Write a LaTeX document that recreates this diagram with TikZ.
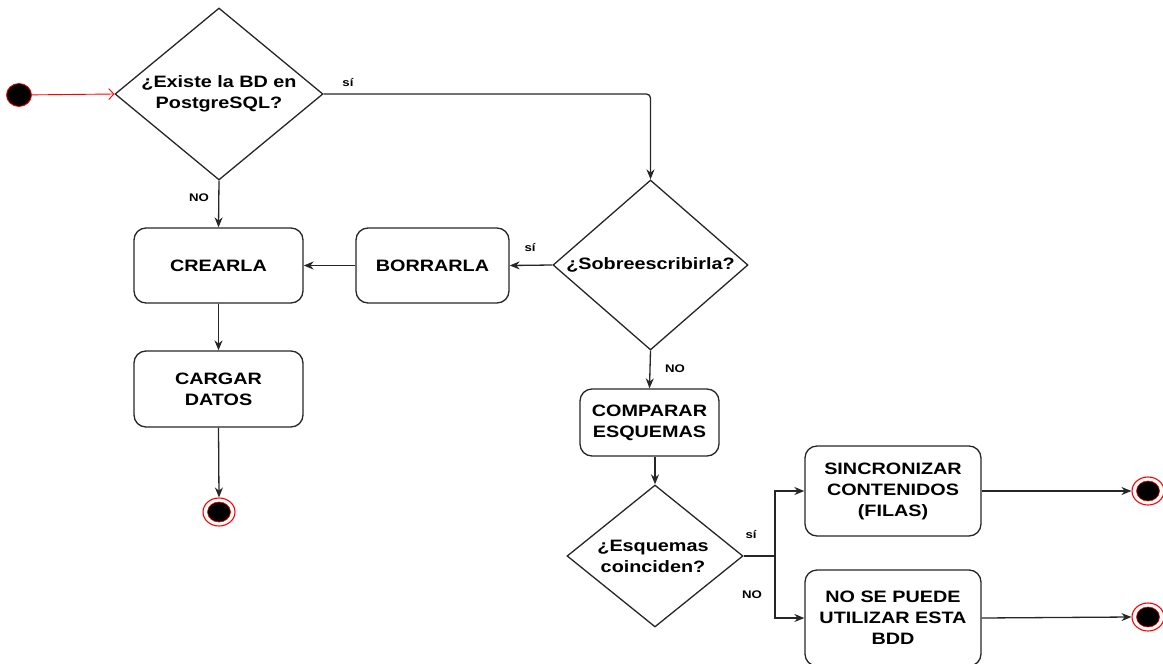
\documentclass[tikz,border=0pt]{standalone}
\usepackage{fontspec}
\setmainfont[FakeStretch=1.2]{Liberation Sans}
\usetikzlibrary{shapes.geometric,arrows.meta}
\begin{document}
\begin{tikzpicture}[x=1pt,y=-1pt,
 box/.style={draw=black!85, line width=1.3pt, rounded corners=12pt, align=center, font=\bfseries\fontsize{16.5}{21}\selectfont, inner sep=0pt},
 dia/.style={draw=black!85, line width=1.3pt, diamond, inner sep=0pt},
 dtext/.style={align=center, font=\bfseries\fontsize{16.5}{21}\selectfont},
 lbl/.style={font=\bfseries\fontsize{11}{13}\selectfont},
 arr/.style={draw=black!85, line width=1.3pt, -{Stealth[length=10pt,width=8pt]}},
 ln/.style={draw=black!85, line width=1.3pt},
 endring/.style={ellipse, draw=red, line width=1.1pt, minimum width=32pt, minimum height=28pt, inner sep=0pt},
 enddot/.style={ellipse, fill=black, draw=red, line width=0.6pt, minimum width=23pt, minimum height=20pt, inner sep=0pt},
]
\useasboundingbox (0,0) rectangle (1163,664);
\clip (0,0) rectangle (1163,664);

% start
\node[ellipse, fill=black, draw=red, line width=0.8pt, minimum width=25pt, minimum height=23pt, inner sep=0pt] (start) at (19,95) {};

% diamonds
\node[dia, minimum width=208pt, minimum height=172pt] (d1) at (219,94) {};
\node[dtext] (d1t) at (d1.center) {¿Existe la BD en\\PostgreSQL?};
\node[dia, minimum width=195pt, minimum height=170pt] (d2) at (650.5,265) {};
\node[dtext] (d2t) at (d2.center) {¿Sobreescribirla?};
\node[dia, minimum width=176pt, minimum height=142pt] (d3) at (655,556) {};
\node[dtext] (d3t) at (653,556) {¿Esquemas\\coinciden?};

% boxes
\node[box, minimum width=169pt, minimum height=75pt] (crear) at (218.5,265.5) {CREARLA};
\node[box, minimum width=153pt, minimum height=75pt] (borrar) at (432.5,265.5) {BORRARLA};
\node[box, minimum width=169pt, minimum height=76pt] (cargar) at (218.5,389) {CARGAR\\DATOS};
\node[box, minimum width=139pt, minimum height=67pt] (comparar) at (649.5,422.5) {COMPARAR\\ESQUEMAS};
\node[box, minimum width=176pt, minimum height=90pt] (sinc) at (893,491) {SINCRONIZAR\\CONTENIDOS\\(FILAS)};
\node[box, minimum width=176pt, minimum height=96pt] (nose) at (893,618) {NO SE PUEDE\\UTILIZAR ESTA\\BDD};

% end states
\node[endring] (end1) at (219,512) {};
\node[enddot] (end1d) at (end1.center) {};
\node[endring] (end2) at (1148,491) {};
\node[enddot] (end2d) at (end2.center) {};
\node[endring] (end3) at (1148,617) {};
\node[enddot] (end3d) at (end3.center) {};

% connectors
\draw[red, line width=0.9pt, -{Straight Barb[length=5pt,width=11pt,line width=0.9pt]}] (start) -- (d1.west);
\draw[arr, rounded corners=4pt] (d1.east) -- (d2.north |- d1.east) -- (d2.north);
\draw[arr] (d1.south) -- (crear.north);
\draw[arr] (d2.west) -- (borrar.east);
\draw[arr] (borrar.west) -- (crear.east);
\draw[arr] (crear.south) -- (cargar.north);
\draw[arr] (cargar.south) -- (end1.north);
\draw[arr] (d2.south) -- (comparar.north);
\draw[arr] (comparar.south -| d3.north) -- (d3.north);
\coordinate (split) at (775,556);
\draw[ln] (d3.east) -- (split);
\draw[arr] (split) |- (sinc.west);
\draw[arr] (split) |- (nose.west);
\draw[arr] (sinc.east) -- (end2.west);
\draw[arr] (nose.east) -- (end3.west);

% labels
\node[lbl] (l1) at (348,83) {sí};
\node[lbl] (l2) at (199,198) {NO};
\node[lbl] (l3) at (530,248) {sí};
\node[lbl] (l4) at (675,369) {NO};
\node[lbl] (l5) at (751,535) {sí};
\node[lbl] (l6) at (752,595) {NO};
\end{tikzpicture}
\end{document}
